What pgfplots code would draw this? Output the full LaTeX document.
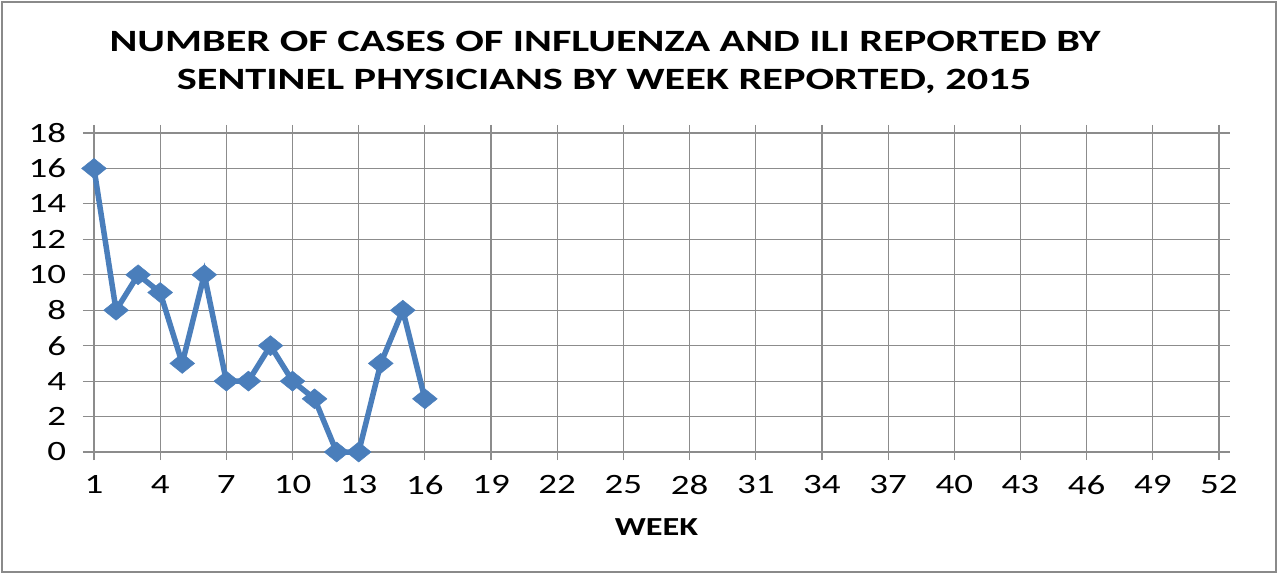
\documentclass[border=0pt]{standalone}
\usepackage{pgfplots}
\pgfplotsset{compat=1.18}
\usepackage{fontspec}
\setmainfont{Carlito}
\newfontfamily\titlefont[FakeStretch=1.365]{Carlito}
\newfontfamily\wfont[FakeStretch=1.32]{Carlito}
\definecolor{xlblue}{HTML}{4A7EBB}
\definecolor{gridgray}{HTML}{8C8C8C}
\definecolor{framegray}{HTML}{8A8A8A}
\begin{document}
\begin{tikzpicture}[x=1pt,y=1pt]
\useasboundingbox (0,0) rectangle (1279,574);
\draw[framegray, line width=2pt] (2,2) rectangle (1276,572);
\node[anchor=base, inner sep=0pt, font=\titlefont\fontsize{31}{34}\selectfont\bfseries] at (605,522) {NUMBER OF CASES OF INFLUENZA AND ILI REPORTED BY};
\node[anchor=base, inner sep=0pt, font=\titlefont\fontsize{31}{34}\selectfont\bfseries] at (604,484) {SENTINEL PHYSICIANS BY WEEK REPORTED, 2015};
\begin{axis}[
  at={(94pt,122pt)}, anchor=south west,
  width=1125pt, height=319pt, scale only axis,
  xmin=1, xmax=52, ymin=0, ymax=18,
  xtick={1,4,...,52}, ytick={0,2,...,18},
  grid=major,
  grid style={gridgray, line width=1.2pt},
  axis line style={gridgray, line width=1.2pt},
  tick align=outside,
  xtick style={gridgray, line width=1.2pt, /pgfplots/major tick length=8pt},
  ytick style={gridgray, line width=1.2pt, /pgfplots/major tick length=11pt},
  ticklabel style={font=\wfont\fontsize{28}{30}\selectfont, text=black},
  /pgf/number format/assume math mode=true,
  xticklabel style={yshift=-16pt},
  yticklabel style={xshift=-20pt},
  xlabel={WEEK},
  xlabel style={font=\wfont\fontsize{26}{28}\selectfont\bfseries, at={(axis description cs:0.5,0)}, anchor=center, yshift=-75pt},
  clip=false,
]
\addplot[xlblue, line width=5.5pt, mark=diamond*, mark size=10pt,
  mark options={xscale=1.65, solid, fill=xlblue, draw=xlblue, line width=0.5pt}]
coordinates {
(1,16) (2,8) (3,10) (4,9) (5,5) (6,10) (7,4) (8,4) (9,6) (10,4)
(11,3) (12,0) (13,0) (14,5) (15,8) (16,3)
};
\end{axis}
\end{tikzpicture}
\end{document}
